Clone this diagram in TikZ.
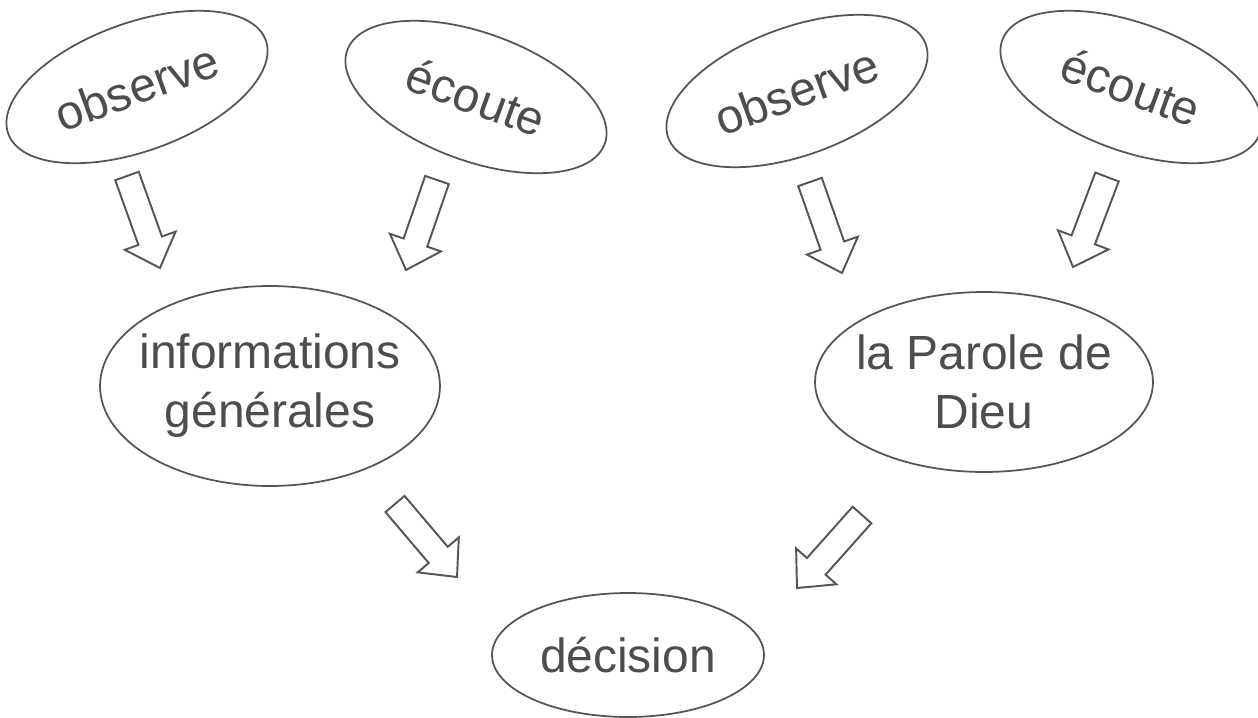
\documentclass[tikz,border=0pt]{standalone}
\usepackage{fontspec}
\setmainfont{Liberation Sans}
\usetikzlibrary{shapes.geometric,calc}
\definecolor{ink}{HTML}{555555}
\definecolor{txt}{HTML}{4D4D4D}
\tikzset{
  oval/.style={ellipse, draw=ink, line width=1pt, inner sep=-0.4cm, text=txt,
    font=\fontsize{27.3}{33.6}\selectfont, align=center},
  smalloval/.style={oval, minimum width=5.48cm, minimum height=2.56cm},
  blk/.style={draw=ink, line width=1.1pt, line join=miter, fill=white}
}
\newcommand\myblkarrow[2]{%
  \coordinate (#1b) at ($(#2)!0.58cm!(#1)$);
  \draw[blk] ($(#1)!0.25cm!90:(#2)$) -- ($(#1b)!0.25cm!90:(#2)$)
    -- ($(#1b)!0.54cm!90:(#2)$) -- (#2) -- ($(#1b)!0.54cm!-90:(#2)$)
    -- ($(#1b)!0.25cm!-90:(#2)$) -- ($(#1)!0.25cm!-90:(#2)$) -- cycle;}
\begin{document}
\begin{tikzpicture}[x=0.02cm,y=-0.02cm]
\useasboundingbox[fill=white] (0,0) rectangle (1258,717);
\node[smalloval, rotate=20] (obsL) at (137,87) {observe};
\node[smalloval, rotate=-20] (ecoL) at (476,97) {écoute};
\node[smalloval, rotate=20] (obsR) at (797,91) {observe};
\node[smalloval, rotate=-20] (ecoR) at (1131,87) {écoute};
\node[oval, minimum width=6.8cm, minimum height=4.0cm] (info) at (270,386) {informations\\générales};
\node[oval, minimum width=6.76cm, minimum height=3.6cm] (parole) at (984,382) {la Parole de\\Dieu};
\node[oval, minimum width=5.44cm, minimum height=2.48cm] (dec) at (628,655) {décision};
\coordinate (t1) at (127,176); \coordinate (h1) at (160,268);
\coordinate (t2) at (437,180); \coordinate (h2) at (406,270);
\coordinate (t3) at (810,182); \coordinate (h3) at (842,273);
\coordinate (t4) at (1107,177); \coordinate (h4) at (1073,267);
\coordinate (t5) at (395,504); \coordinate (h5) at (457,577);
\coordinate (t6) at (862,515); \coordinate (h6) at (797,588);
\myblkarrow{t1}{h1}
\myblkarrow{t2}{h2}
\myblkarrow{t3}{h3}
\myblkarrow{t4}{h4}
\myblkarrow{t5}{h5}
\myblkarrow{t6}{h6}
\end{tikzpicture}
\end{document}
